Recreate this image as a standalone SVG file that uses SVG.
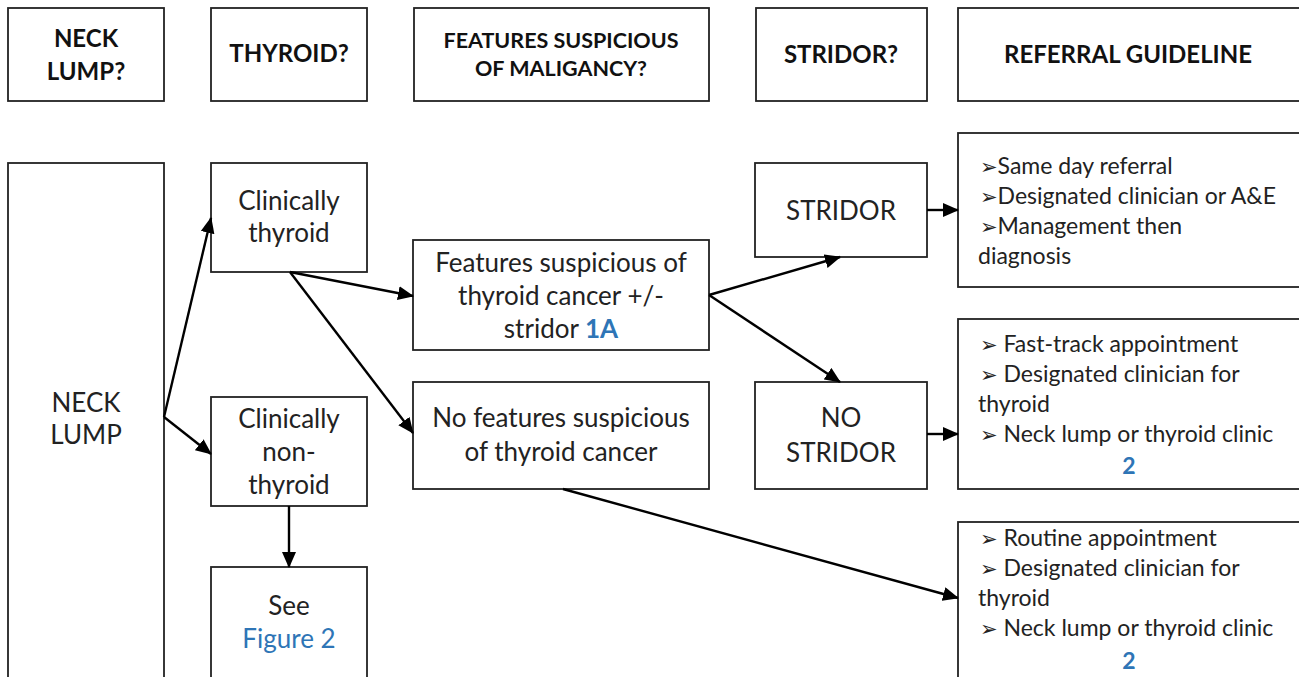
<svg xmlns="http://www.w3.org/2000/svg" width="1299" height="677" viewBox="0 0 1299 677">
<style>
.box{fill:#fff;stroke:#222;stroke-width:1.8}
.hd{font-family:Lato,"Open Sans",sans-serif;font-weight:bold;font-size:24px;fill:#111;text-anchor:middle}
.hs{font-size:21.5px}
.t{font-family:Lato,"Open Sans",sans-serif;font-size:26px;fill:#222;text-anchor:middle}
.r{font-family:Lato,"Open Sans","DejaVu Sans",sans-serif;font-size:23px;fill:#222}
.blue{fill:#2E75B6}
.bb{fill:#2E75B6;font-weight:bold}
.ar{font-family:"DejaVu Sans",sans-serif;font-size:21px}
.c{fill:none;stroke:#000;stroke-width:2.4}
</style>
<defs>
<marker id="ah" markerUnits="userSpaceOnUse" markerWidth="16" markerHeight="14" refX="15" refY="7" orient="auto">
<path d="M0,0 L16,7 L0,14 Z" fill="#000"/>
</marker>
</defs>
<rect width="1299" height="677" fill="#fff"/>
<g id="h-neck"><rect class="box" x="8" y="8" width="156" height="93"/><text class="hd" x="86" y="47">NECK</text><text class="hd" x="86" y="80">LUMP?</text></g>
<g id="h-thyroid"><rect class="box" x="211" y="8" width="156" height="93"/><text class="hd" x="289" y="62">THYROID?</text></g>
<g id="h-features"><rect class="box" x="414" y="8" width="295" height="93"/><text class="hd hs" x="561" y="48">FEATURES SUSPICIOUS</text><text class="hd hs" x="561" y="76">OF MALIGANCY?</text></g>
<g id="h-stridor"><rect class="box" x="756" y="8" width="171" height="93"/><text class="hd" x="841" y="63">STRIDOR?</text></g>
<g id="h-referral"><rect class="box" x="958" y="8" width="345" height="93"/><text class="hd" x="1128" y="63">REFERRAL GUIDELINE</text></g>

<g id="neck-lump"><rect class="box" x="8" y="163" width="156" height="530"/><text class="t" x="86" y="412">NECK</text><text class="t" x="86" y="444">LUMP</text></g>
<g id="clin-thyroid"><rect class="box" x="211" y="163" width="156" height="109"/><text class="t" x="289" y="210">Clinically</text><text class="t" x="289" y="242">thyroid</text></g>
<g id="clin-nonthyroid"><rect class="box" x="211" y="397" width="156" height="109"/><text class="t" x="289" y="428">Clinically</text><text class="t" x="289" y="461">non-</text><text class="t" x="289" y="494">thyroid</text></g>
<g id="see-fig2"><rect class="box" x="211" y="567" width="156" height="126"/><text class="t" x="289" y="615">See</text><text class="t blue" x="289" y="648">Figure 2</text></g>
<g id="suspicious"><rect class="box" x="413" y="240" width="296" height="110"/><text class="t" x="561" y="272">Features suspicious of</text><text class="t" x="561" y="305">thyroid cancer +/-</text><text class="t" x="561" y="338">stridor <tspan class="bb">1A</tspan></text></g>
<g id="no-suspicious"><rect class="box" x="413" y="382" width="296" height="107"/><text class="t" x="561" y="427">No features suspicious</text><text class="t" x="561" y="461">of thyroid cancer</text></g>
<g id="stridor"><rect class="box" x="755" y="163" width="172" height="94"/><text class="t" x="841" y="220">STRIDOR</text></g>
<g id="no-stridor"><rect class="box" x="755" y="382" width="172" height="107"/><text class="t" x="841" y="427">NO</text><text class="t" x="841" y="462">STRIDOR</text></g>
<g id="ref-same-day"><rect class="box" x="958" y="133" width="345" height="154"/>
<text class="r" x="980" y="174"><tspan class="ar">➢</tspan>Same day referral</text>
<text class="r" x="980" y="204"><tspan class="ar">➢</tspan>Designated clinician or A&amp;E</text>
<text class="r" x="980" y="234"><tspan class="ar">➢</tspan>Management then</text>
<text class="r" x="978" y="264">diagnosis</text></g>
<g id="ref-fast-track"><rect class="box" x="958" y="319" width="345" height="170"/>
<text class="r" x="980" y="352"><tspan class="ar">➢</tspan> Fast-track appointment</text>
<text class="r" x="980" y="382"><tspan class="ar">➢</tspan> Designated clinician for</text>
<text class="r" x="978" y="412">thyroid</text>
<text class="r" x="980" y="442"><tspan class="ar">➢</tspan> Neck lump or thyroid clinic</text>
<text class="r bb" x="1129" y="474" text-anchor="middle">2</text></g>
<g id="ref-routine"><rect class="box" x="958" y="522" width="345" height="170"/>
<text class="r" x="980" y="546"><tspan class="ar">➢</tspan> Routine appointment</text>
<text class="r" x="980" y="576"><tspan class="ar">➢</tspan> Designated clinician for</text>
<text class="r" x="978" y="606">thyroid</text>
<text class="r" x="980" y="636"><tspan class="ar">➢</tspan> Neck lump or thyroid clinic</text>
<text class="r bb" x="1129" y="669" text-anchor="middle">2</text></g>

<g id="connectors">
<line class="c" x1="164" y1="417" x2="211" y2="218" marker-end="url(#ah)"/>
<line class="c" x1="164" y1="417" x2="211" y2="454" marker-end="url(#ah)"/>
<line class="c" x1="290" y1="272" x2="413" y2="296" marker-end="url(#ah)"/>
<line class="c" x1="290" y1="272" x2="413" y2="433" marker-end="url(#ah)"/>
<line class="c" x1="709" y1="295" x2="840" y2="257" marker-end="url(#ah)"/>
<line class="c" x1="709" y1="295" x2="840" y2="382" marker-end="url(#ah)"/>
<line class="c" x1="927" y1="210" x2="958" y2="210" marker-end="url(#ah)"/>
<line class="c" x1="927" y1="434" x2="958" y2="434" marker-end="url(#ah)"/>
<line class="c" x1="289" y1="506" x2="289" y2="567" marker-end="url(#ah)"/>
<line class="c" x1="563" y1="489" x2="958" y2="598" marker-end="url(#ah)"/>
</g>
</svg>
